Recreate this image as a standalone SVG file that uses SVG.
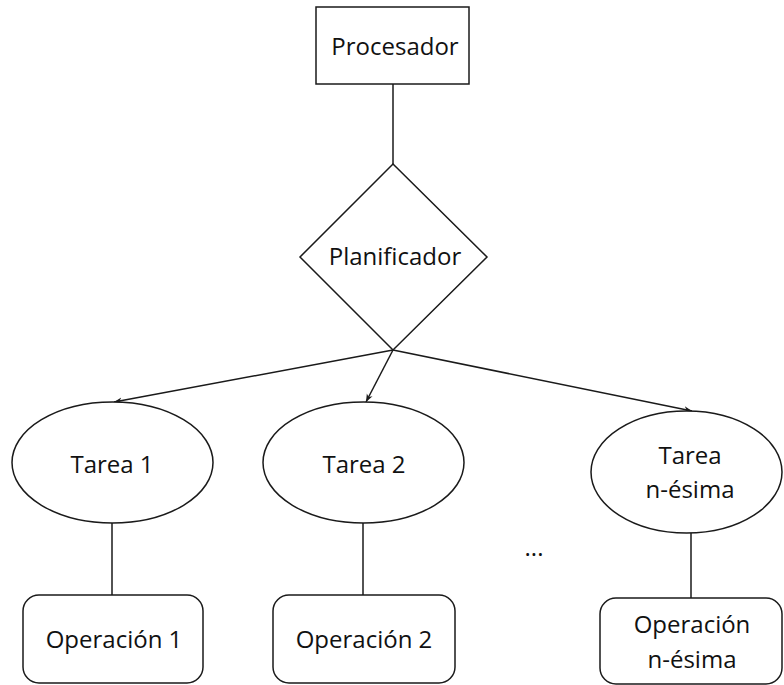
<svg xmlns="http://www.w3.org/2000/svg" width="784" height="685" viewBox="0 0 784 685">
  <defs>
    <marker id="arrow" viewBox="0 0 10 10" refX="10" refY="5" markerWidth="8" markerHeight="8" markerUnits="userSpaceOnUse" orient="auto">
      <path d="M0,1 L10,5 L0,9 L3,5 Z" fill="#1a1a1a"/>
    </marker>
  </defs>
  <style>
    .shape { fill: #fff; stroke: #1a1a1a; stroke-width: 1.5; }
    .link { fill: none; stroke: #1a1a1a; stroke-width: 1.5; }
    .label { font-family: "Open Sans", "Noto Sans", sans-serif; font-size: 24px; fill: #111; text-anchor: middle; }
  </style>
  <rect width="784" height="685" fill="#fff"/>

  <g id="connectors">
    <line class="link" x1="393" y1="84" x2="393" y2="164"/>
    <line class="link" x1="393" y1="350" x2="114" y2="402" marker-end="url(#arrow)"/>
    <line class="link" x1="393" y1="350" x2="366" y2="402" marker-end="url(#arrow)"/>
    <line class="link" x1="393" y1="350" x2="692" y2="411" marker-end="url(#arrow)"/>
    <line class="link" x1="112" y1="523" x2="112" y2="595"/>
    <line class="link" x1="363" y1="523" x2="363" y2="595"/>
    <line class="link" x1="691" y1="533" x2="691" y2="598"/>
  </g>

  <g id="procesador">
    <rect class="shape" x="316" y="7" width="153" height="77"/>
    <text class="label" x="395" y="55">Procesador</text>
  </g>

  <g id="planificador">
    <polygon class="shape" points="393,164 487,257 393,350 300,257"/>
    <text class="label" x="395" y="265">Planificador</text>
  </g>

  <g id="tarea1">
    <ellipse class="shape" cx="112.5" cy="462.5" rx="100.5" ry="60.5"/>
    <text class="label" x="112" y="473">Tarea 1</text>
  </g>

  <g id="tarea2">
    <ellipse class="shape" cx="363.5" cy="462.5" rx="100.5" ry="60.5"/>
    <text class="label" x="364" y="473">Tarea 2</text>
  </g>

  <g id="tarean">
    <ellipse class="shape" cx="686.5" cy="472" rx="95.5" ry="61"/>
    <text class="label" x="690" y="464">Tarea</text>
    <text class="label" x="690" y="498">n-ésima</text>
  </g>

  <text class="label" x="534" y="556">...</text>

  <g id="operacion1">
    <rect class="shape" x="23" y="595" width="180" height="88" rx="16"/>
    <text class="label" x="114" y="648">Operación 1</text>
  </g>

  <g id="operacion2">
    <rect class="shape" x="273" y="595" width="182" height="88" rx="16"/>
    <text class="label" x="364" y="648">Operación 2</text>
  </g>

  <g id="operacionn">
    <rect class="shape" x="600" y="598" width="182" height="86" rx="16"/>
    <text class="label" x="692" y="633">Operación</text>
    <text class="label" x="692" y="668">n-ésima</text>
  </g>
</svg>
